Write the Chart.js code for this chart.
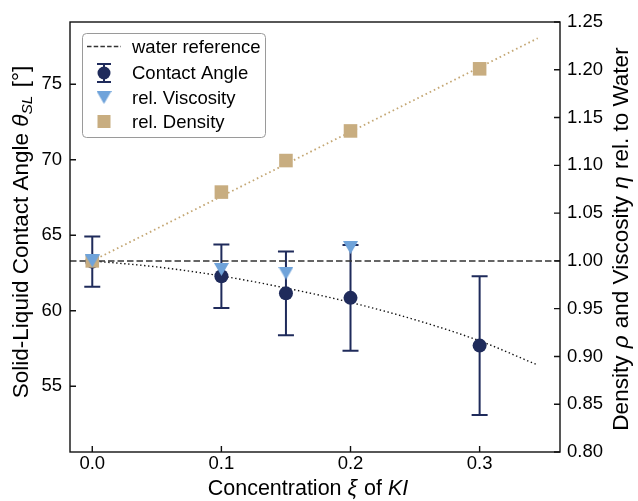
<!DOCTYPE html>
<html>
<head>
<meta charset="utf-8">
<script src="https://cdn.jsdelivr.net/npm/chart.js@4.4.1/dist/chart.umd.min.js"></script>
<style>
  html, body { margin: 0; padding: 0; background: #fff; }
  #wrap { width: 638px; height: 501px; }
</style>
</head>
<body>
<div id="wrap"><canvas id="chart" width="638" height="501"></canvas></div>
<script>
// measured points (KI concentration)
const concentration = [0, 0.1, 0.15, 0.2, 0.3];
const contactAngle = [63.25, 62.28, 61.15, 60.85, 57.69];
const contactAngleErr = [1.66, 2.1, 2.77, 3.51, 4.6];

const viscosityConc = [0, 0.1, 0.15, 0.2];
const relViscosity = [1.0, 0.991, 0.987, 1.014];

const densityConc = [0, 0.1, 0.15, 0.2, 0.3];
const relDensity = [1.0, 1.072, 1.105, 1.136, 1.201];

// fit curves
const angleFitConc = [0, 0.05, 0.1, 0.15, 0.2, 0.25, 0.3, 0.345];
const angleFit = [63.3, 62.9, 62.3, 61.5, 60.55, 59.4, 58.0, 56.4];
const densityFitConc = [0, 0.345];
const densityFit = [1.0, 1.233];

const waterRefAngle = 63.3;

const xTicks = [0, 0.1, 0.2, 0.3];
const angleTicks = [55, 60, 65, 70, 75];
const relTicks = [0.80, 0.85, 0.90, 0.95, 1.00, 1.05, 1.10, 1.15, 1.20, 1.25];

const xMin = -0.01725, xMax = 0.36225;
const relMin = 0.8, relMax = 1.25;
const angleMin = waterRefAngle * relMin, angleMax = waterRefAngle * relMax;

const NAVY = '#1f2b5b';
const BLUE = '#6fa3da';
const TAN = '#c8ad80';
const FONT = "'Liberation Sans', Arial, sans-serif";
const FS = 18.5;

const toXY = (xs, ys) => xs.map((x, i) => ({ x, y: ys[i] }));

const makeTriangle = (w, h, color) => {
  const c = document.createElement('canvas');
  c.width = w;
  c.height = h;
  const g = c.getContext('2d');
  g.fillStyle = color;
  g.beginPath();
  g.moveTo(0, 0);
  g.lineTo(w, 0);
  g.lineTo(w / 2, h);
  g.closePath();
  g.fill();
  return c;
};
const triangleDown = makeTriangle(15, 13, BLUE);

// write a line of mixed normal / italic / subscript pieces, centred on (x, y)
const drawRich = (ctx, parts, x, y, angle) => {
  ctx.save();
  ctx.translate(x, y);
  ctx.rotate(angle);
  ctx.textBaseline = 'alphabetic';
  ctx.textAlign = 'left';
  ctx.fillStyle = '#000';
  let total = 0;
  parts.forEach((p) => {
    ctx.font = p.font;
    p.w = ctx.measureText(p.text).width + (p.gap || 0);
    total += p.w;
  });
  let cx = -total / 2;
  parts.forEach((p) => {
    ctx.font = p.font;
    ctx.fillText(p.text, cx, p.dy || 0);
    cx += p.w;
  });
  ctx.restore();
};

const normal = `${FS}px ${FONT}`;
const font = (size, style = '') => `${style} ${size}px ${FONT}`.trim();

const errorBars = {
  id: 'errorBars',
  beforeDatasetsDraw(chart) {
    const { ctx } = chart;
    const xs = chart.scales.x;
    const ys = chart.scales.y;
    ctx.save();
    ctx.strokeStyle = NAVY;
    ctx.lineWidth = 2;
    concentration.forEach((c, i) => {
      const px = xs.getPixelForValue(c);
      const top = ys.getPixelForValue(contactAngle[i] + contactAngleErr[i]);
      const bot = ys.getPixelForValue(contactAngle[i] - contactAngleErr[i]);
      ctx.beginPath();
      ctx.moveTo(px, top);
      ctx.lineTo(px, bot);
      ctx.moveTo(px - 8, top);
      ctx.lineTo(px + 8, top);
      ctx.moveTo(px - 8, bot);
      ctx.lineTo(px + 8, bot);
      ctx.stroke();
    });
    ctx.restore();
  },
};

const frameAndExtras = {
  id: 'frameAndExtras',
  afterDraw(chart) {
    const { ctx, chartArea: a } = chart;
    const { x, y, y2 } = chart.scales;
    ctx.save();

    // box round the axes
    ctx.strokeStyle = '#111';
    ctx.lineWidth = 1.4;
    ctx.strokeRect(a.left, a.top, a.right - a.left, a.bottom - a.top);

    // inward ticks
    const tl = 6;
    ctx.beginPath();
    xTicks.forEach((v) => {
      const px = x.getPixelForValue(v);
      ctx.moveTo(px, a.bottom);
      ctx.lineTo(px, a.bottom - tl);
    });
    angleTicks.forEach((v) => {
      const py = y.getPixelForValue(v);
      ctx.moveTo(a.left, py);
      ctx.lineTo(a.left + tl, py);
    });
    relTicks.forEach((v) => {
      const py = y2.getPixelForValue(v);
      ctx.moveTo(a.right, py);
      ctx.lineTo(a.right - tl, py);
    });
    ctx.stroke();

    // legend
    const lx = 82, ly = 33, lw = 183, lh = 104;
    ctx.beginPath();
    ctx.roundRect(lx + 0.5, ly + 0.5, lw, lh, 4);
    ctx.fillStyle = 'rgba(255,255,255,0.9)';
    ctx.fill();
    ctx.strokeStyle = '#9a9a9a';
    ctx.lineWidth = 1;
    ctx.stroke();

    const hx = 104;
    const rows = [46.5, 73, 97.5, 121.5];

    ctx.strokeStyle = '#333';
    ctx.lineWidth = 1.5;
    ctx.setLineDash([4.5, 2.2]);
    ctx.beginPath();
    ctx.moveTo(87, rows[0]);
    ctx.lineTo(121, rows[0]);
    ctx.stroke();
    ctx.setLineDash([]);

    ctx.strokeStyle = NAVY;
    ctx.lineWidth = 2;
    ctx.beginPath();
    ctx.moveTo(hx, rows[1] - 9);
    ctx.lineTo(hx, rows[1] + 9);
    ctx.moveTo(hx - 7, rows[1] - 9);
    ctx.lineTo(hx + 7, rows[1] - 9);
    ctx.moveTo(hx - 7, rows[1] + 9);
    ctx.lineTo(hx + 7, rows[1] + 9);
    ctx.stroke();
    ctx.fillStyle = NAVY;
    ctx.beginPath();
    ctx.arc(hx, rows[1], 6.5, 0, Math.PI * 2);
    ctx.fill();

    ctx.drawImage(triangleDown, hx - 7.5, rows[2] - 6.5);

    ctx.fillStyle = TAN;
    ctx.fillRect(hx - 6.5, rows[3] - 6.5, 13, 13);

    ctx.fillStyle = '#000';
    ctx.font = normal;
    ctx.textBaseline = 'middle';
    ctx.textAlign = 'left';
    ['water reference', 'Contact Angle', 'rel. Viscosity', 'rel. Density'].forEach((t, i) => {
      ctx.fillText(t, 132, rows[i] + 1);
    });

    // axis titles
    drawRich(ctx, [
      { text: 'Concentration ', font: font(21.5) },
      { text: 'ξ', font: font(21.5, 'italic'), gap: 1 },
      { text: ' of ', font: font(21.5) },
      { text: 'KI', font: font(21.5, 'italic') },
    ], 308, 495, 0);

    drawRich(ctx, [
      { text: 'Solid-Liquid Contact Angle ', font: font(22.5) },
      { text: 'θ', font: font(22.5, 'italic') },
      { text: 'SL', font: font(15.5, 'italic'), dy: 4, gap: 2 },
      { text: ' [°]', font: font(22.5) },
    ], 28, 232, -Math.PI / 2);

    drawRich(ctx, [
      { text: 'Density ', font: font(22.5), gap: 1 },
      { text: 'ρ', font: font(22.5, 'italic'), gap: 1 },
      { text: ' and Viscosity ', font: font(22.5), gap: 1 },
      { text: 'η', font: font(22.5, 'italic'), gap: 1 },
      { text: ' rel. to Water', font: font(22.5) },
    ], 628, 239, -Math.PI / 2);

    ctx.restore();
  },
};

Chart.defaults.color = '#000';
Chart.defaults.font.family = FONT;
Chart.defaults.font.size = FS;

const hiddenGrid = { display: false, drawTicks: false, tickLength: 0 };

new Chart(document.getElementById('chart'), {
  type: 'scatter',
  data: {
    datasets: [
      {
        label: 'rel. Viscosity',
        data: toXY(viscosityConc, relViscosity),
        yAxisID: 'y2',
        pointStyle: triangleDown,
        order: 0,
      },
      {
        label: 'rel. Density',
        data: toXY(densityConc, relDensity),
        yAxisID: 'y2',
        pointStyle: 'rect',
        pointRadius: 9.6,
        backgroundColor: TAN,
        borderWidth: 0,
        order: 1,
      },
      {
        label: 'Contact Angle',
        data: toXY(concentration, contactAngle),
        yAxisID: 'y',
        pointStyle: 'circle',
        pointRadius: 7,
        backgroundColor: NAVY,
        borderWidth: 0,
        order: 2,
      },
      {
        label: 'water reference',
        type: 'line',
        data: toXY([xMin, xMax], [waterRefAngle, waterRefAngle]),
        yAxisID: 'y',
        borderColor: '#333',
        borderWidth: 1.5,
        borderDash: [6.5, 3],
        pointRadius: 0,
        order: 3,
      },
      {
        label: 'angle fit',
        type: 'line',
        data: toXY(angleFitConc, angleFit),
        yAxisID: 'y',
        borderColor: '#111',
        borderWidth: 1.4,
        borderDash: [1.4, 2.6],
        cubicInterpolationMode: 'monotone',
        pointRadius: 0,
        order: 4,
      },
      {
        label: 'density fit',
        type: 'line',
        data: toXY(densityFitConc, densityFit),
        yAxisID: 'y2',
        borderColor: '#c4a774',
        borderWidth: 1.8,
        borderDash: [1.6, 3],
        pointRadius: 0,
        order: 5,
      },
    ],
  },
  options: {
    responsive: false,
    animation: false,
    events: [],
    layout: { padding: { top: 22, left: 0, right: 0, bottom: 0 } },
    plugins: {
      legend: { display: false },
      tooltip: { enabled: false },
    },
    scales: {
      x: {
        type: 'linear',
        min: xMin,
        max: xMax,
        grid: hiddenGrid,
        border: { display: false },
        afterBuildTicks: (s) => { s.ticks = xTicks.map((v) => ({ value: v })); },
        afterFit: (s) => { s.height = 49; },
        ticks: { padding: 1, autoSkip: false, maxRotation: 0, callback: (v) => v.toFixed(1) },
      },
      y: {
        type: 'linear',
        position: 'left',
        min: angleMin,
        max: angleMax,
        grid: hiddenGrid,
        border: { display: false },
        afterBuildTicks: (s) => { s.ticks = angleTicks.map((v) => ({ value: v })); },
        afterFit: (s) => { s.width = 70; },
        ticks: { padding: 8, autoSkip: false, callback: (v) => String(v) },
      },
      y2: {
        type: 'linear',
        position: 'right',
        min: relMin,
        max: relMax,
        grid: hiddenGrid,
        border: { display: false },
        afterBuildTicks: (s) => { s.ticks = relTicks.map((v) => ({ value: v })); },
        afterFit: (s) => { s.width = 78; },
        ticks: { padding: 7, autoSkip: false, callback: (v) => v.toFixed(2) },
      },
    },
  },
  plugins: [errorBars, frameAndExtras],
});
</script>
</body>
</html>
